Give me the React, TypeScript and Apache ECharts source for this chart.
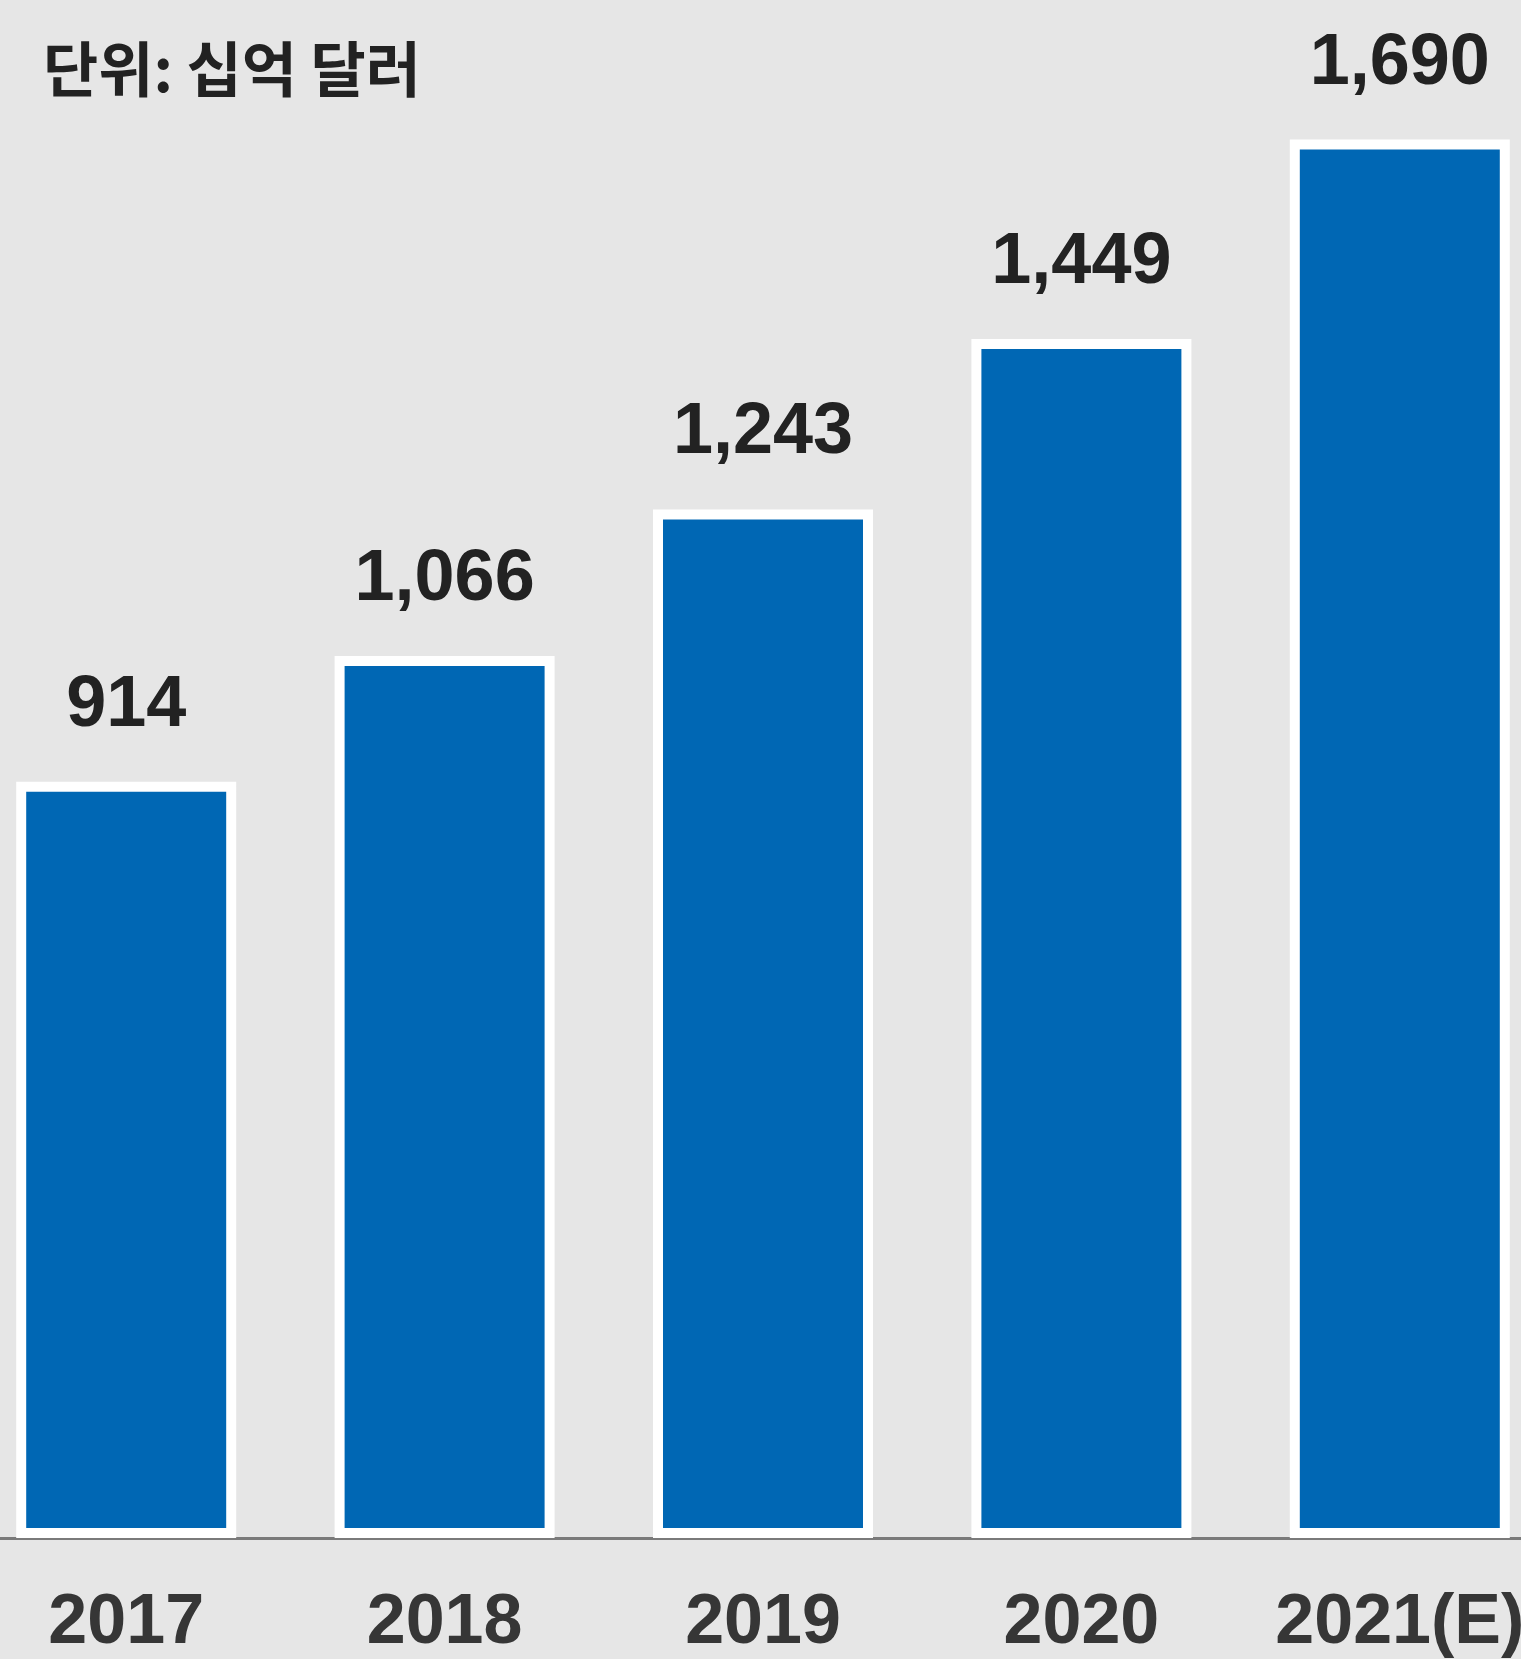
import React, { useEffect, useRef } from "react";
import * as echarts from "echarts";

const categories = ["2017", "2018", "2019", "2020", "2021(E)"];
const values = [914, 1066, 1243, 1449, 1690];
const unitLabel = "단위: 십억 달러";

const SHIFT = 33;

export default function App() {
  const ref = useRef<HTMLDivElement>(null);
  useEffect(() => {
    if (!ref.current) return;
    const chart = echarts.init(ref.current, null, { renderer: "svg" });
    chart.setOption({
      animation: false,
      backgroundColor: "#e6e6e6",
      title: {
        text: unitLabel,
        left: 38 + SHIFT,
        top: 30,
        textStyle: {
          fontFamily: "Noto Sans CJK KR",
          fontWeight: "bold",
          fontSize: 60,
          color: "#222222",
        },
      },
      grid: { left: 0, right: 0, top: 61, height: 1477 },
      xAxis: {
        type: "category",
        data: categories,
        axisLine: { show: true, lineStyle: { color: "#7a7a7a", width: 3 } },
        axisTick: { show: false },
        axisLabel: {
          interval: 0,
          margin: 46,
          fontFamily: "Liberation Sans",
          fontWeight: "bold",
          fontSize: 70,
          color: "#363636",
        },
      },
      yAxis: {
        type: "value",
        min: 0,
        max: 1785,
        show: false,
        splitLine: { show: false },
      },
      series: [
        {
          type: "bar",
          data: values,
          barWidth: 220,
          itemStyle: {
            color: "#0067b4",
            borderColor: "#ffffff",
            borderWidth: 10,
          },
          label: {
            show: true,
            position: "top",
            distance: 45,
            fontFamily: "Liberation Sans",
            fontWeight: "bold",
            fontSize: 72,
            color: "#222222",
            formatter: (p: any) => Number(p.value).toLocaleString("en-US"),
          },
        },
      ],
    });
    return () => chart.dispose();
  }, []);
  return (
    <div
      style={{
        position: "absolute",
        left: 0,
        top: 0,
        width: 1521,
        height: 1659,
        overflow: "hidden",
        background: "#e6e6e6",
      }}
    >
      <div
        ref={ref}
        style={{ position: "absolute", left: -SHIFT, top: 0, width: 1592, height: 1659 }}
      />
    </div>
  );
}
